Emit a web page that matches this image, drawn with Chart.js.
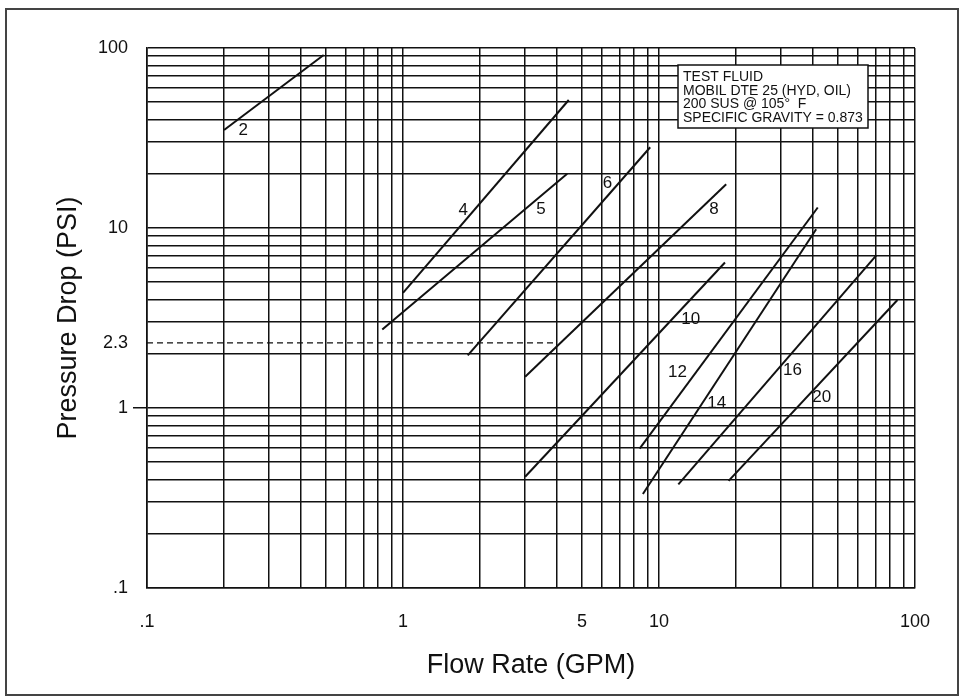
<!DOCTYPE html>
<html>
<head>
<meta charset="utf-8">
<script src="https://cdn.jsdelivr.net/npm/chart.js@4.4.0/dist/chart.umd.min.js"></script>
<style>
  html, body { margin: 0; padding: 0; background: #fff; }
  #wrap { position: relative; width: 964px; height: 700px; }
  #frame { position: absolute; left: 5px; top: 8px; width: 950px; height: 684px; border: 2px solid #444; pointer-events: none; }
</style>
</head>
<body>
<div id="wrap">
  <canvas id="chart" width="964" height="700"></canvas>
  <div id="frame"></div>
</div>
<script>
// valve sizes and the two ends of each pressure-drop line (GPM, PSI)
const sizes = ['2', '4', '5', '6', '8', '10', '12', '14', '16', '20'];
const flowStart = [0.2, 1.0, 0.83, 1.79, 3.0, 3.0, 8.4, 8.65, 11.9, 18.7];
const dropStart = [35, 4.36, 2.73, 1.96, 1.49, 0.415, 0.595, 0.333, 0.376, 0.394];
const flowEnd = [0.49, 4.44, 4.38, 9.24, 18.3, 18.1, 41.7, 41.1, 70.6, 85.4];
const dropEnd = [91.4, 51.4, 20, 28.1, 17.5, 6.43, 13.0, 9.84, 7.04, 3.98];

// where the size numbers sit
const labelFlow = [0.2375, 1.72, 3.46, 6.29, 16.4, 13.3, 11.8, 16.8, 33.2, 43.2];
const labelDrop = [35, 12.6, 12.7, 17.8, 12.7, 3.1, 1.58, 1.06, 1.62, 1.15];

// dashed reference at 2.3 psi
const refDrop = 2.3;
const refFlow = [0.1, 3.9];

const xTickValues = [0.1, 1, 5, 10, 100];
const xTickLabels = ['.1', '1', '5', '10', '100'];
const yTickValues = [0.1, 1, 2.3, 10, 100];
const yTickLabels = ['.1', '1', '2.3', '10', '100'];

const noteLines = ['TEST FLUID', 'MOBIL DTE 25 (HYD, OIL)', '200 SUS @ 105\u00B0  F', 'SPECIFIC GRAVITY = 0.873'];

const FONT = '"Liberation Sans", Arial, Helvetica, sans-serif';
const INK = '#111';

function logGrid() {
    const out = [];
    [0.1, 1, 10].forEach(d => {
        for (let m = 1; m < 10; m++) out.push(+(d * m).toPrecision(3));
    });
    out.push(100);
    return out;
}

function labelFor(values, labels, v) {
    const i = values.findIndex(t => Math.abs(t - v) < 1e-9);
    return i < 0 ? '' : labels[i];
}

const datasets = sizes.map((s, i) => ({
    label: s,
    data: [{ x: flowStart[i], y: dropStart[i] }, { x: flowEnd[i], y: dropEnd[i] }],
    showLine: true,
    borderColor: INK,
    borderWidth: 2,
    pointRadius: 0
}));
datasets.push({
    label: 'ref',
    data: refFlow.map(f => ({ x: f, y: refDrop })),
    showLine: true,
    borderColor: INK,
    borderWidth: 1.3,
    borderDash: [6, 4],
    pointRadius: 0
});

const lineLabels = {
    id: 'lineLabels',
    afterDatasetsDraw(chart) {
        const { ctx, scales: { x, y } } = chart;
        ctx.save();
        ctx.font = '17px ' + FONT;
        ctx.fillStyle = INK;
        ctx.textAlign = 'center';
        ctx.textBaseline = 'middle';
        sizes.forEach((s, i) => {
            ctx.fillText(s, x.getPixelForValue(labelFlow[i]), y.getPixelForValue(labelDrop[i]));
        });
        ctx.restore();
    }
};

const noteBox = {
    id: 'noteBox',
    afterDraw(chart) {
        const { ctx, chartArea } = chart;
        const w = 190, h = 63;
        const left = chartArea.right - 47 - w, top = chartArea.top + 17;
        ctx.save();
        ctx.fillStyle = '#fff';
        ctx.fillRect(left, top, w, h);
        ctx.strokeStyle = INK;
        ctx.lineWidth = 1.5;
        ctx.strokeRect(left, top, w, h);
        ctx.fillStyle = INK;
        ctx.font = '14px ' + FONT;
        ctx.textBaseline = 'middle';
        noteLines.forEach((t, i) => ctx.fillText(t, left + 5, top + 12 + i * 13.7));
        ctx.restore();
    }
};

new Chart(document.getElementById('chart'), {
    type: 'scatter',
    data: { datasets },
    options: {
        responsive: false,
        animation: false,
        layout: { padding: { left: 0, right: 49, top: 48, bottom: 0 } },
        plugins: { legend: { display: false }, tooltip: { enabled: false } },
        scales: {
            x: {
                type: 'logarithmic',
                min: 0.1,
                max: 100,
                afterBuildTicks: s => { s.ticks = logGrid().map(v => ({ value: v })); },
                afterFit: s => { s.height = 112; },
                border: { color: INK, width: 1.6 },
                grid: { color: INK, lineWidth: 1.5, drawTicks: false },
                ticks: {
                    autoSkip: false, maxRotation: 0, padding: 23, color: INK,
                    font: { family: FONT, size: 18 },
                    callback: v => labelFor(xTickValues, xTickLabels, v)
                },
                title: {
                    display: true, text: 'Flow Rate (GPM)', color: INK,
                    font: { family: FONT, size: 27 },
                    padding: { top: 0, bottom: 18 }
                }
            },
            y: {
                type: 'logarithmic',
                min: 0.1,
                max: 100,
                afterBuildTicks: s => {
                    s.ticks = logGrid().concat([refDrop]).sort((a, b) => a - b).map(v => ({ value: v }));
                },
                afterFit: s => { s.width = 147; },
                border: { color: INK, width: 1.6 },
                grid: {
                    color: c => (c.tick && c.tick.value === refDrop ? 'rgba(0,0,0,0)' : INK),
                    tickColor: c => (c.tick && c.tick.value === 1 ? INK : 'rgba(0,0,0,0)'),
                    lineWidth: 1.5,
                    drawTicks: true,
                    tickLength: 14
                },
                ticks: {
                    autoSkip: false, padding: 5, color: INK,
                    font: { family: FONT, size: 18 },
                    callback: v => labelFor(yTickValues, yTickLabels, v)
                },
                title: {
                    display: true, text: 'Pressure Drop (PSI)', color: INK,
                    font: { family: FONT, size: 27 },
                    padding: { top: 52, bottom: 0 }
                }
            }
        }
    },
    plugins: [lineLabels, noteBox]
});
</script>
</body>
</html>
